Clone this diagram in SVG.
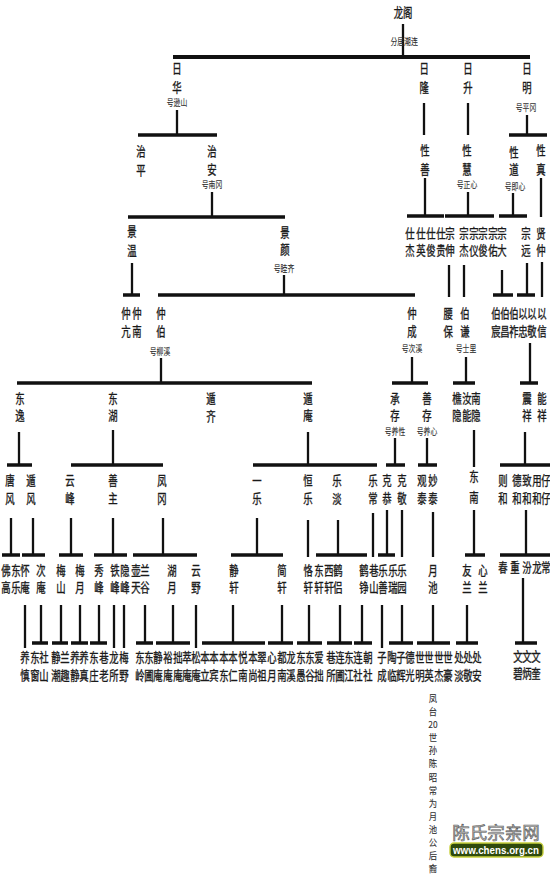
<svg xmlns="http://www.w3.org/2000/svg" width="550" height="880" viewBox="0 0 550 880">
<style>
.t{font-family:"Noto Sans CJK SC","Noto Sans CJK TC",sans-serif;font-size:13px;fill:#1a1a1a;stroke:#1a1a1a;stroke-width:0.35;text-anchor:middle;transform:scaleX(0.72);transform-box:fill-box;transform-origin:center}
.s{font-size:9.5px;fill:#333;stroke-width:0.1}
.v{font-size:9.5px;fill:#333;stroke-width:0.1;transform:scaleX(0.88)}
.ln{stroke:#111;stroke-width:2.3;fill:none}
.bar{stroke:#111;stroke-width:3.5;fill:none}
.wm{font-family:"Noto Sans CJK SC",sans-serif;font-size:17.5px;fill:#b8b8b8;stroke:#5a5a5a;stroke-width:0.6;text-anchor:middle}
.url{font-family:"Liberation Sans",Arial,sans-serif;font-size:11px;font-weight:bold;fill:#ffffff;text-anchor:middle}
</style>
<rect width="550" height="880" fill="#ffffff"/>

<g id="connectors">
<path class="ln" d="M403 24V57"/>
<path class="bar" d="M173 57H530" style="stroke-width:4"/>
<path class="ln" d="M177 110V135"/><path class="bar" d="M138 135H217"/>
<path class="ln" d="M424 103V135"/>
<path class="ln" d="M468 103V135"/>
<path class="ln" d="M527 115V135"/><path class="bar" d="M509 135H547"/>
<path class="ln" d="M212 192V217"/><path class="bar" d="M128 217H285"/>
<path class="ln" d="M425 178V216"/><path class="bar" d="M407 216H444"/>
<path class="ln" d="M468 192V216"/><path class="bar" d="M445 216H494"/>
<path class="ln" d="M513 193V216"/><path class="bar" d="M499 216H527"/>
<path class="ln" d="M541 178V217"/>
<path class="ln" d="M132 263V295"/><path class="bar" d="M123 295H140"/>
<path class="ln" d="M284 275V295"/><path class="bar" d="M158 295H415"/>
<path class="ln" d="M449 265V297"/>
<path class="ln" d="M464 265V297"/>
<path class="ln" d="M502 270V295"/><path class="bar" d="M493 295H513"/>
<path class="ln" d="M527 263V295"/><path class="bar" d="M517 295H535"/>
<path class="ln" d="M542 262V297"/>
<path class="ln" d="M161 358V383"/><path class="bar" d="M17 383H312"/>
<path class="ln" d="M412 357V383"/><path class="bar" d="M392 383H428"/>
<path class="ln" d="M466 357V383"/><path class="bar" d="M453 383H475"/>
<path class="ln" d="M530 343V383"/><path class="bar" d="M520 383H538"/>
<path class="ln" d="M19 432V465"/><path class="bar" d="M7 465H32"/>
<path class="ln" d="M113 430V465"/><path class="bar" d="M71 465H163"/>
<path class="ln" d="M308 432V465"/><path class="bar" d="M253 465H377"/>
<path class="ln" d="M395 438V465"/><path class="bar" d="M386 465H405"/>
<path class="ln" d="M427 438V465"/><path class="bar" d="M418 465H437"/>
<path class="ln" d="M474 430V467"/>
<path class="ln" d="M525 432V465"/><path class="bar" d="M500 465H550"/>
<path class="ln" d="M11 518V555"/><path class="bar" d="M2 555H20"/>
<path class="ln" d="M33 518V555"/><path class="bar" d="M22 555H45"/>
<path class="ln" d="M71 518V555"/><path class="bar" d="M59 555H83"/>
<path class="ln" d="M113 518V555"/><path class="bar" d="M94 555H127"/>
<path class="ln" d="M163 518V555"/><path class="bar" d="M133 555H197"/>
<path class="ln" d="M257 518V555"/><path class="bar" d="M231 555H283"/>
<path class="ln" d="M308 520V557"/>
<path class="ln" d="M338 520V555"/><path class="bar" d="M316 555H367"/>
<path class="ln" d="M373 513V557"/>
<path class="ln" d="M387 510V555"/><path class="bar" d="M378 555H395"/>
<path class="ln" d="M402 510V557"/>
<path class="ln" d="M433 512V557"/>
<path class="ln" d="M474 510V555"/><path class="bar" d="M465 555H485"/>
<path class="ln" d="M526 510V555"/><path class="bar" d="M500 555H550"/>
<path class="ln" d="M25 605V648"/>
<path class="ln" d="M41 605V643"/><path class="bar" d="M32 643H48"/>
<path class="ln" d="M61 605V643"/><path class="bar" d="M52 643H68"/>
<path class="ln" d="M80 605V643"/><path class="bar" d="M71 643H88"/>
<path class="ln" d="M99 605V643"/><path class="bar" d="M90 643H107"/>
<path class="ln" d="M114 605V648"/>
<path class="ln" d="M124 605V648"/>
<path class="ln" d="M145 605V643"/><path class="bar" d="M136 643H153"/>
<path class="ln" d="M173 605V643"/><path class="bar" d="M156 643H190"/>
<path class="ln" d="M196 605V648"/>
<path class="ln" d="M233 605V643"/><path class="bar" d="M202 643H265"/>
<path class="ln" d="M282 605V643"/><path class="bar" d="M268 643H293"/>
<path class="ln" d="M309 605V643"/><path class="bar" d="M297 643H322"/>
<path class="ln" d="M340 605V643"/><path class="bar" d="M327 643H352"/>
<path class="ln" d="M362 605V643"/><path class="bar" d="M354 643H372"/>
<path class="ln" d="M382 605V648"/>
<path class="ln" d="M402 605V643"/><path class="bar" d="M389 643H413"/>
<path class="ln" d="M433 605V643"/><path class="bar" d="M417 643H450"/>
<path class="ln" d="M467 605V643"/><path class="bar" d="M456 643H478"/>
<path class="ln" d="M523 578V643"/><path class="bar" d="M515 643H537"/>
</g>

<g id="nodes">
<g id="n-longge"><text class="t" x="403" y="17">龙阁</text><text class="t s" x="404" y="45.5">分居潮连</text></g>

<g id="n-rihua"><text class="t" x="177" y="73">日<tspan x="177" dy="19">华</tspan></text><text class="t s" x="177" y="106.5">号逊山</text></g>
<g id="n-rilong"><text class="t" x="424" y="73">日<tspan x="424" dy="19">隆</tspan></text></g>
<g id="n-risheng"><text class="t" x="468" y="73">日<tspan x="468" dy="19">升</tspan></text></g>
<g id="n-riming"><text class="t" x="527" y="73">日<tspan x="527" dy="19">明</tspan></text><text class="t s" x="526" y="111.5">号平冈</text></g>

<g id="n-zhiping"><text class="t" x="141" y="156">治<tspan x="141" dy="19">平</tspan></text></g>
<g id="n-zhian"><text class="t" x="212" y="156">治<tspan x="212" dy="18">安</tspan></text><text class="t s" x="212" y="188.5">号南冈</text></g>
<g id="n-xingshan"><text class="t" x="425" y="155">性<tspan x="425" dy="19">善</tspan></text></g>
<g id="n-xinghui"><text class="t" x="467" y="155">性<tspan x="467" dy="19">慧</tspan></text><text class="t s" x="467" y="188.5">号正心</text></g>
<g id="n-xingdao"><text class="t" x="514" y="157">性<tspan x="514" dy="17">道</tspan></text><text class="t s" x="515" y="190">号即心</text></g>
<g id="n-xingzhen"><text class="t" x="541" y="155">性<tspan x="541" dy="19">真</tspan></text></g>

<g id="n-jingwen"><text class="t" x="132" y="236">景<tspan x="132" dy="19">温</tspan></text></g>
<g id="n-jingyan"><text class="t" x="285" y="237">景<tspan x="285" dy="17">颜</tspan></text><text class="t s" x="284" y="272">号睦齐</text></g>
<g id="n-shijie"><text class="t" x="410" y="238">仕<tspan x="410" dy="17">杰</tspan></text></g>
<g id="n-shiying"><text class="t" x="421" y="238">仕<tspan x="421" dy="17">英</tspan></text></g>
<g id="n-shijun"><text class="t" x="431" y="238">仕<tspan x="431" dy="17">俊</tspan></text></g>
<g id="n-shigui"><text class="t" x="441" y="238">仕<tspan x="441" dy="17">贵</tspan></text></g>
<g id="n-zongshen"><text class="t" x="450" y="238">宗<tspan x="450" dy="17">伸</tspan></text></g>
<g id="n-zongjie"><text class="t" x="464" y="238">宗<tspan x="464" dy="17">杰</tspan></text></g>
<g id="n-zongyi"><text class="t" x="474" y="238">宗<tspan x="474" dy="17">仪</tspan></text></g>
<g id="n-zongjun"><text class="t" x="483" y="238">宗<tspan x="483" dy="17">俊</tspan></text></g>
<g id="n-zongyou"><text class="t" x="493" y="238">宗<tspan x="493" dy="17">佑</tspan></text></g>
<g id="n-zongda"><text class="t" x="502" y="238">宗<tspan x="502" dy="17">大</tspan></text></g>
<g id="n-zongyuan"><text class="t" x="526" y="238">宗<tspan x="526" dy="17">远</tspan></text></g>
<g id="n-xianzhong"><text class="t" x="541" y="238">贤<tspan x="541" dy="17">仲</tspan></text></g>

<g id="n-zhongkang"><text class="t" x="126" y="318">仲<tspan x="126" dy="18">亢</tspan></text></g>
<g id="n-zhongnan"><text class="t" x="137" y="318">仲<tspan x="137" dy="18">南</tspan></text></g>
<g id="n-zhongbo"><text class="t" x="161" y="318">仲<tspan x="161" dy="18">伯</tspan></text><text class="t s" x="160" y="355.5">号柳溪</text></g>
<g id="n-zhongcheng"><text class="t" x="412" y="318">仲<tspan x="412" dy="18">成</tspan></text><text class="t s" x="412" y="352.5">号次溪</text></g>
<g id="n-yaobao"><text class="t" x="448" y="318">腰<tspan x="448" dy="18">保</tspan></text></g>
<g id="n-boqian"><text class="t" x="465" y="318">伯<tspan x="465" dy="18">谦</tspan></text><text class="t s" x="466" y="352.5">号士里</text></g>
<g id="n-bochen"><text class="t" x="496" y="318">伯<tspan x="496" dy="18">宸</tspan></text></g>
<g id="n-bochang"><text class="t" x="505" y="318">伯<tspan x="505" dy="18">昌</tspan></text></g>
<g id="n-bozuo"><text class="t" x="514" y="318">伯<tspan x="514" dy="18">祚</tspan></text></g>
<g id="n-yizhong"><text class="t" x="523" y="318">以<tspan x="523" dy="18">忠</tspan></text></g>
<g id="n-yijing"><text class="t" x="532" y="318">以<tspan x="532" dy="18">敬</tspan></text></g>
<g id="n-yixin"><text class="t" x="542" y="318">以<tspan x="542" dy="18">信</tspan></text></g>

<g id="n-dongyi"><text class="t" x="20" y="403">东<tspan x="20" dy="17">逸</tspan></text></g>
<g id="n-donghu"><text class="t" x="113" y="403">东<tspan x="113" dy="17">湖</tspan></text></g>
<g id="n-dunqi"><text class="t" x="211" y="403">遁<tspan x="211" dy="18">齐</tspan></text></g>
<g id="n-dunan"><text class="t" x="308" y="403">遁<tspan x="308" dy="17">庵</tspan></text></g>
<g id="n-chengcun"><text class="t" x="395" y="403">承<tspan x="395" dy="17">存</tspan></text><text class="t s" x="395" y="435.5">号养性</text></g>
<g id="n-shancun"><text class="t" x="427" y="403">善<tspan x="427" dy="17">存</tspan></text><text class="t s" x="427" y="435.5">号养心</text></g>
<g id="n-qiaoyin"><text class="t" x="457" y="403">樵<tspan x="457" dy="17">隐</tspan></text></g>
<g id="n-runeng"><text class="t" x="467" y="403">汝<tspan x="467" dy="17">能</tspan></text></g>
<g id="n-nanyin"><text class="t" x="476" y="403">南<tspan x="476" dy="17">隐</tspan></text></g>
<g id="n-zhenxiang"><text class="t" x="527" y="403">震<tspan x="527" dy="17">祥</tspan></text></g>
<g id="n-nengxiang"><text class="t" x="542" y="403">能<tspan x="542" dy="17">祥</tspan></text></g>

<g id="n-tangfeng"><text class="t" x="10" y="485">唐<tspan x="10" dy="18">风</tspan></text></g>
<g id="n-dunfeng"><text class="t" x="31" y="485">遁<tspan x="31" dy="18">风</tspan></text></g>
<g id="n-yunfeng"><text class="t" x="70" y="485">云<tspan x="70" dy="18">峰</tspan></text></g>
<g id="n-shanzhu"><text class="t" x="113" y="485">善<tspan x="113" dy="18">主</tspan></text></g>
<g id="n-fenggang"><text class="t" x="162" y="485">凤<tspan x="162" dy="18">冈</tspan></text></g>
<g id="n-yile"><text class="t" x="257" y="485">一<tspan x="257" dy="18">乐</tspan></text></g>
<g id="n-hengle"><text class="t" x="308" y="485">恒<tspan x="308" dy="18">乐</tspan></text></g>
<g id="n-ledan"><text class="t" x="337" y="485">乐<tspan x="337" dy="18">淡</tspan></text></g>
<g id="n-lechang"><text class="t" x="373" y="485">乐<tspan x="373" dy="18">常</tspan></text></g>
<g id="n-kegong"><text class="t" x="387" y="485">克<tspan x="387" dy="18">恭</tspan></text></g>
<g id="n-kejing"><text class="t" x="402" y="485">克<tspan x="402" dy="18">敬</tspan></text></g>
<g id="n-guantai"><text class="t" x="422" y="485">观<tspan x="422" dy="18">泰</tspan></text></g>
<g id="n-miaotai"><text class="t" x="433" y="485">妙<tspan x="433" dy="18">泰</tspan></text></g>
<g id="n-dongnan"><text class="t" x="474" y="481">东<tspan x="474" dy="21">南</tspan></text></g>
<g id="n-zehe"><text class="t" x="503" y="485">则<tspan x="503" dy="18">和</tspan></text></g>
<g id="n-dehe"><text class="t" x="517" y="485">德<tspan x="517" dy="18">和</tspan></text></g>
<g id="n-zhihe"><text class="t" x="527" y="485">致<tspan x="527" dy="18">和</tspan></text></g>
<g id="n-yonghe"><text class="t" x="537" y="485">用<tspan x="537" dy="18">和</tspan></text></g>
<g id="n-zaizai"><text class="t" x="546" y="485">仔<tspan x="546" dy="18">仔</tspan></text></g>

<g id="n-fogao"><text class="t" x="6" y="575">佛<tspan x="6" dy="17">高</tspan></text></g>
<g id="n-dongle"><text class="t" x="16" y="575">东<tspan x="16" dy="17">乐</tspan></text></g>
<g id="n-huaian"><text class="t" x="25" y="575">怀<tspan x="25" dy="17">庵</tspan></text></g>
<g id="n-cian"><text class="t" x="41" y="575">次<tspan x="41" dy="17">庵</tspan></text></g>
<g id="n-meishan"><text class="t" x="61" y="575">梅<tspan x="61" dy="17">山</tspan></text></g>
<g id="n-meiyue"><text class="t" x="80" y="575">梅<tspan x="80" dy="17">月</tspan></text></g>
<g id="n-xiufeng"><text class="t" x="99" y="575">秀<tspan x="99" dy="17">峰</tspan></text></g>
<g id="n-tiefeng"><text class="t" x="115" y="575">铁<tspan x="115" dy="17">峰</tspan></text></g>
<g id="n-yinfeng"><text class="t" x="125" y="575">隐<tspan x="125" dy="17">峰</tspan></text></g>
<g id="n-hutian"><text class="t" x="136" y="575">壶<tspan x="136" dy="17">天</tspan></text></g>
<g id="n-langu"><text class="t" x="145" y="575">兰<tspan x="145" dy="17">谷</tspan></text></g>
<g id="n-huyue"><text class="t" x="172" y="575">湖<tspan x="172" dy="17">月</tspan></text></g>
<g id="n-yunye"><text class="t" x="196" y="575">云<tspan x="196" dy="17">野</tspan></text></g>
<g id="n-jingxuan"><text class="t" x="234" y="575">静<tspan x="234" dy="17">轩</tspan></text></g>
<g id="n-jianxuan"><text class="t" x="282" y="575">简<tspan x="282" dy="17">轩</tspan></text></g>
<g id="n-kexuan"><text class="t" x="308" y="575">恪<tspan x="308" dy="17">轩</tspan></text></g>
<g id="n-dongxuan"><text class="t" x="319" y="575">东<tspan x="319" dy="17">轩</tspan></text></g>
<g id="n-xixuan"><text class="t" x="329" y="575">西<tspan x="329" dy="17">轩</tspan></text></g>
<g id="n-helv"><text class="t" x="338" y="575">鹤<tspan x="338" dy="17">侣</tspan></text></g>
<g id="n-hezheng"><text class="t" x="364" y="575">鹤<tspan x="364" dy="17">铮</tspan></text></g>
<g id="n-xiangshan"><text class="t" x="374" y="575">巷<tspan x="374" dy="17">山</tspan></text></g>
<g id="n-leshan"><text class="t" x="383" y="575">乐<tspan x="383" dy="17">善</tspan></text></g>
<g id="n-lerui"><text class="t" x="393" y="575">乐<tspan x="393" dy="17">瑞</tspan></text></g>
<g id="n-leyuan"><text class="t" x="402" y="575">乐<tspan x="402" dy="17">园</tspan></text></g>
<g id="n-yuechi"><text class="t" x="433" y="575">月<tspan x="433" dy="17">池</tspan></text></g>
<g id="n-youlan"><text class="t" x="467" y="575">友<tspan x="467" dy="17">兰</tspan></text></g>
<g id="n-xinlan"><text class="t" x="483" y="575">心<tspan x="483" dy="17">兰</tspan></text></g>
<g id="n-chun"><text class="t" x="503" y="572">春</text></g>
<g id="n-zhong"><text class="t" x="515" y="572">重</text></g>
<g id="n-fen"><text class="t" x="527" y="572">汾</text></g>
<g id="n-long"><text class="t" x="537" y="572">龙</text></g>
<g id="n-chang"><text class="t" x="546" y="572">常</text></g>

<g id="n-b01"><text class="t" x="25" y="662">养<tspan x="25" dy="18">慎</tspan></text></g>
<g id="n-b02"><text class="t" x="35" y="662">东<tspan x="35" dy="18">窗</tspan></text></g>
<g id="n-b03"><text class="t" x="44" y="662">社<tspan x="44" dy="18">山</tspan></text></g>
<g id="n-b04"><text class="t" x="56" y="662">静<tspan x="56" dy="18">潮</tspan></text></g>
<g id="n-b05"><text class="t" x="65" y="662">兰<tspan x="65" dy="18">趣</tspan></text></g>
<g id="n-b06"><text class="t" x="75" y="662">养<tspan x="75" dy="18">静</tspan></text></g>
<g id="n-b07"><text class="t" x="84" y="662">养<tspan x="84" dy="18">真</tspan></text></g>
<g id="n-b08"><text class="t" x="94" y="662">东<tspan x="94" dy="18">庄</tspan></text></g>
<g id="n-b09"><text class="t" x="104" y="662">巷<tspan x="104" dy="18">老</tspan></text></g>
<g id="n-b10"><text class="t" x="114" y="662">龙<tspan x="114" dy="18">所</tspan></text></g>
<g id="n-b11"><text class="t" x="124" y="662">梅<tspan x="124" dy="18">野</tspan></text></g>
<g id="n-b12"><text class="t" x="140" y="662">东<tspan x="140" dy="18">岭</tspan></text></g>
<g id="n-b13"><text class="t" x="149" y="662">东<tspan x="149" dy="18">圃</tspan></text></g>
<g id="n-b14"><text class="t" x="158" y="662">静<tspan x="158" dy="18">庵</tspan></text></g>
<g id="n-b15"><text class="t" x="168" y="662">裕<tspan x="168" dy="18">庵</tspan></text></g>
<g id="n-b16"><text class="t" x="178" y="662">拙<tspan x="178" dy="18">庵</tspan></text></g>
<g id="n-b17"><text class="t" x="187" y="662">萃<tspan x="187" dy="18">庵</tspan></text></g>
<g id="n-b18"><text class="t" x="196" y="662">松<tspan x="196" dy="18">庵</tspan></text></g>
<g id="n-b19"><text class="t" x="205" y="662">本<tspan x="205" dy="18">立</tspan></text></g>
<g id="n-b20"><text class="t" x="214" y="662">本<tspan x="214" dy="18">宾</tspan></text></g>
<g id="n-b21"><text class="t" x="224" y="662">本<tspan x="224" dy="18">东</tspan></text></g>
<g id="n-b22"><text class="t" x="233" y="662">本<tspan x="233" dy="18">仁</tspan></text></g>
<g id="n-b23"><text class="t" x="243" y="662">悦<tspan x="243" dy="18">南</tspan></text></g>
<g id="n-b24"><text class="t" x="253" y="662">本<tspan x="253" dy="18">尚</tspan></text></g>
<g id="n-b25"><text class="t" x="262" y="662">翠<tspan x="262" dy="18">祖</tspan></text></g>
<g id="n-b26"><text class="t" x="272" y="662">心<tspan x="272" dy="18">月</tspan></text></g>
<g id="n-b27"><text class="t" x="282" y="662">都<tspan x="282" dy="18">南</tspan></text></g>
<g id="n-b28"><text class="t" x="291" y="662">龙<tspan x="291" dy="18">溪</tspan></text></g>
<g id="n-b29"><text class="t" x="301" y="662">东<tspan x="301" dy="18">愚</tspan></text></g>
<g id="n-b30"><text class="t" x="310" y="662">东<tspan x="310" dy="18">谷</tspan></text></g>
<g id="n-b31"><text class="t" x="319" y="662">爱<tspan x="319" dy="18">拙</tspan></text></g>
<g id="n-b32"><text class="t" x="331" y="662">巷<tspan x="331" dy="18">所</tspan></text></g>
<g id="n-b33"><text class="t" x="340" y="662">连<tspan x="340" dy="18">圃</tspan></text></g>
<g id="n-b34"><text class="t" x="349" y="662">东<tspan x="349" dy="18">江</tspan></text></g>
<g id="n-b35"><text class="t" x="358" y="662">连<tspan x="358" dy="18">社</tspan></text></g>
<g id="n-b36"><text class="t" x="368" y="662">朝<tspan x="368" dy="18">社</tspan></text></g>
<g id="n-b37"><text class="t" x="382" y="662">子<tspan x="382" dy="18">成</tspan></text></g>
<g id="n-b38"><text class="t" x="392" y="662">陶<tspan x="392" dy="18">临</tspan></text></g>
<g id="n-b39"><text class="t" x="401" y="662">子<tspan x="401" dy="18">辉</tspan></text></g>
<g id="n-b40"><text class="t" x="410" y="662">德<tspan x="410" dy="18">光</tspan></text></g>
<g id="n-b41"><text class="t" x="420" y="662">世<tspan x="420" dy="18">明</tspan></text></g>
<g id="n-b42"><text class="t" x="429" y="662">世<tspan x="429" dy="18">英</tspan></text></g>
<g id="n-b43"><text class="t" x="439" y="662">世<tspan x="439" dy="18">杰</tspan></text></g>
<g id="n-b44"><text class="t" x="448" y="662">世<tspan x="448" dy="18">豪</tspan></text></g>
<g id="n-b45"><text class="t" x="459" y="662">处<tspan x="459" dy="18">淡</tspan></text></g>
<g id="n-b46"><text class="t" x="468" y="662">处<tspan x="468" dy="18">敬</tspan></text></g>
<g id="n-b47"><text class="t" x="477" y="662">处<tspan x="477" dy="18">安</tspan></text></g>
<g id="n-b48"><text class="t" x="518" y="661">文<tspan x="518" dy="17">碧</tspan></text></g>
<g id="n-b49"><text class="t" x="527" y="661">文<tspan x="527" dy="17">炳</tspan></text></g>
<g id="n-b50"><text class="t" x="536" y="661">文<tspan x="536" dy="17">奎</tspan></text></g>

<g id="n-note"><text class="t v" x="433" y="702">凤<tspan x="433" dy="13.1">台</tspan><tspan x="433" dy="13.1">20</tspan><tspan x="433" dy="13.1">世</tspan><tspan x="433" dy="13.1">孙</tspan><tspan x="433" dy="13.1">陈</tspan><tspan x="433" dy="13.1">昭</tspan><tspan x="433" dy="13.1">常</tspan><tspan x="433" dy="13.1">为</tspan><tspan x="433" dy="13.1">月</tspan><tspan x="433" dy="13.1">池</tspan><tspan x="433" dy="13.1">公</tspan><tspan x="433" dy="13.1">后</tspan><tspan x="433" dy="13.1">裔</tspan></text></g>
</g>

<g id="watermark">
<text class="wm" x="496" y="839">陈氏宗亲网</text>
<rect x="450" y="843" width="93" height="14" rx="4" fill="#2f4a0c" stroke="#c9d13e" stroke-width="1.4"/>
<text class="url" x="496" y="854" textLength="86" lengthAdjust="spacingAndGlyphs">www.chens.org.cn</text>
</g>
</svg>
